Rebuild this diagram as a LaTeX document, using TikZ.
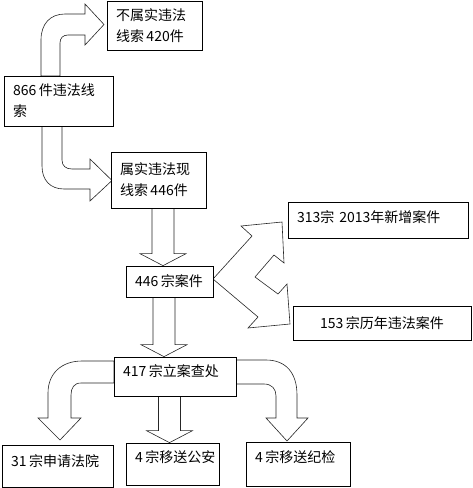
\documentclass[tikz,border=0pt]{standalone}
\usepackage{fontspec}
\setmainfont{Noto Sans CJK SC}
\usetikzlibrary{calc,backgrounds}

\tikzset{
  kuang/.style={draw,line width=0.7pt,fill=white,inner xsep=9pt,inner ysep=0pt,
    align=left},
  jiantou/.style={draw=black!85,line width=0.6pt,fill=white,line join=miter}
}
% small gap between digits and characters
\newcommand{\jg}{\kern2.5pt}
% straight block arrow: top node anchor, bottom node anchor, x of the shaft
\newcommand{\xiajiantou}[3]{%
  \draw[jiantou] let \p1=(#1), \p2=(#2) in
    (#3pt-11pt,\y1) -- (#3pt-11pt,\y2+12pt) -- (#3pt-23pt,\y2+12pt)
    -- (#3pt,\y2) -- (#3pt+23pt,\y2+12pt) -- (#3pt+11pt,\y2+12pt)
    -- (#3pt+11pt,\y1) -- cycle;}

\begin{document}
\begin{tikzpicture}[x=1pt,y=-1pt,font=\fontsize{14}{21}\selectfont]
    \useasboundingbox (0,0) rectangle (472,488);

    % boxes of the flow, top to bottom
    \node[kuang,text width=77pt,minimum height=49pt] (bushi) at (154.5,25.5)
        {不属实违法\\线索\jg 420件};
    \node[kuang,text width=91pt,minimum height=50pt] (xiansuo) at (58.5,101)
        {866\jg 件违法线\\索};
    \node[kuang,text width=77pt,minimum height=56pt] (shushi) at (158.5,180)
        {属实违法现\\线索\jg 446件};
    \node[kuang,text width=69pt,minimum height=31pt] (anjian) at (169.5,281.5)
        {446\jg 宗案件};
    \node[kuang,text width=162pt,minimum height=36pt,text depth=7pt] (xinzeng)
        at (378,220) {313宗\jg\jg 2013年新增案件};
    \node[kuang,align=center,text width=160pt,minimum height=34pt] (linian)
        at (382,323) {153\jg 宗历年违法案件};
    \node[kuang,text width=104pt,minimum height=39pt,text depth=11pt] (lian)
        at (175,376.5) {417\jg 宗立案查处};
    \node[kuang,text width=93pt,minimum height=42pt,text depth=10pt] (fayuan)
        at (57.5,466) {31\jg 宗申请法院};
    \node[kuang,text width=75pt,minimum height=42pt,text depth=14pt] (gongan)
        at (172.5,464) {4\jg 宗移送公安};
    \node[kuang,text width=86pt,minimum height=44pt,text depth=14pt] (jijian)
        at (298,464) {4\jg 宗移送纪检};

    % block arrows sit behind the boxes
    \begin{scope}[on background layer]
    \draw[jiantou] (41,76) -- (41,40) .. controls (41,24) and (50,14) .. (65,14)
        -- (85,14) -- (85,4) -- (104,24.5) -- (85,45) -- (85,35) -- (68,35)
        .. controls (63,35) and (60,38) .. (60,43) -- (60,76) -- cycle;
    \draw[jiantou] (42,126) -- (42,166) .. controls (42,180) and (50,189) .. (64,189)
        -- (90,189) -- (90,201) -- (112,180.5) -- (90,159) -- (90,169) -- (72,169)
        .. controls (66,169) and (62,166) .. (62,160) -- (62,126) -- cycle;

    \xiajiantou{shushi.south}{anjian.north}{163}
    \xiajiantou{anjian.south}{lian.north}{164}
    \xiajiantou{lian.south}{gongan.north}{169.5}

    % split arrow towards the two kinds of cases
    \draw[jiantou] (213,279) -- (252,236) -- (241,226) -- (282,222) -- (284,263)
        -- (274,255) -- (255,277) -- (278,294) -- (287,284) -- (290,324)
        -- (248,328) -- (258,317) -- cycle;

    \draw[jiantou] (114,361) -- (82,361) .. controls (62,361) and (48,373) .. (48,393)
        -- (48,418) -- (38,418) -- (60,440) -- (81,418) -- (71,418) -- (71,395)
        .. controls (71,388) and (74,383) .. (81,383) -- (114,383) -- cycle;
    \draw[jiantou] (236,360) -- (266,360) .. controls (286,360) and (297,373) .. (297,395)
        -- (297,418) -- (308,418) -- (287,441) -- (266,418) -- (276,418) -- (276,396)
        .. controls (276,389) and (272,384) .. (264,384) -- (236,384) -- cycle;
    \end{scope}
\end{tikzpicture}
\end{document}
